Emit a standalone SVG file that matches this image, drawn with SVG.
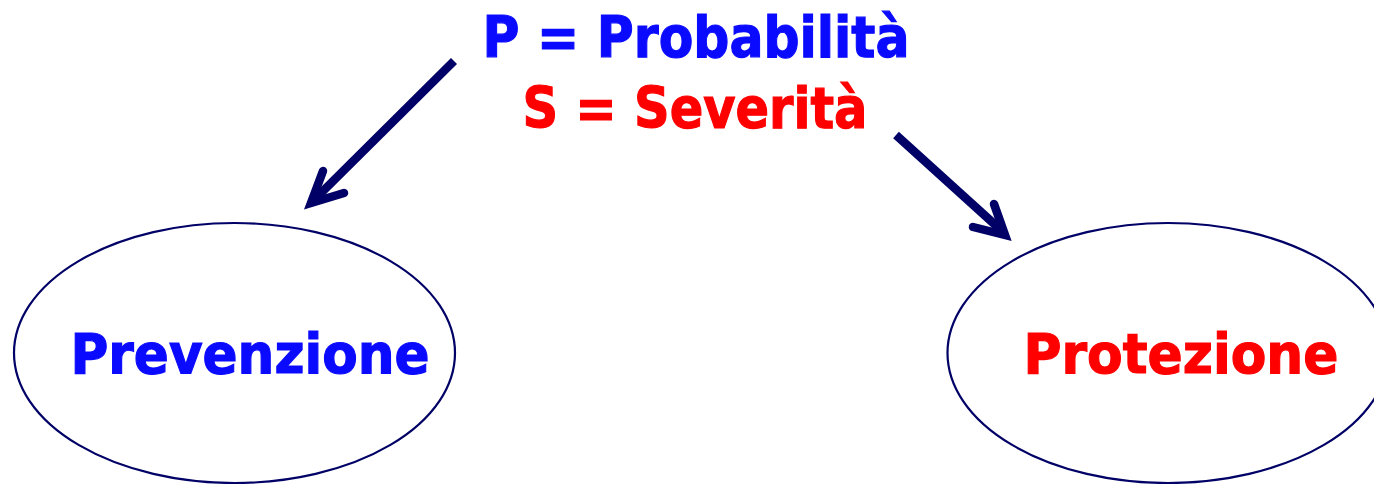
<svg xmlns="http://www.w3.org/2000/svg" width="1374" height="484" viewBox="0 0 1374 484">
<style>
.node{fill:#fff;stroke:#000066;stroke-width:2.2}
.t{font-family:"DejaVu Sans","Verdana",sans-serif;font-weight:bold;stroke-width:1.2}
.blue{fill:#0a0aff;stroke:#0a0aff}
.red{fill:#ff0000;stroke:#ff0000}
.shaft{fill:none;stroke:#000066;stroke-width:8.5}
.head{fill:none;stroke:#000066;stroke-width:8.5;stroke-linecap:round;stroke-linejoin:miter;stroke-miterlimit:10}
</style>
<rect width="1374" height="484" fill="#fff"/>
<g id="title">
<text class="t blue" x="482.5" y="57" font-size="57" textLength="427" lengthAdjust="spacingAndGlyphs">P = Probabilità</text>
<text class="t red" x="522.5" y="128" font-size="57" textLength="345" lengthAdjust="spacingAndGlyphs">S = Severità</text>
</g>
<g id="prevenzione">
<ellipse class="node" cx="234.5" cy="353" rx="220.5" ry="130"/>
<text class="t blue" x="70.5" y="373" font-size="55" textLength="359" lengthAdjust="spacingAndGlyphs">Prevenzione</text>
</g>
<g id="protezione">
<ellipse class="node" cx="1168" cy="353" rx="220.5" ry="130"/>
<text class="t red" x="1023.5" y="373" font-size="55" textLength="315" lengthAdjust="spacingAndGlyphs">Protezione</text>
</g>
<g id="connectors">
<path class="shaft" d="M454,61 L315,199"/>
<path class="head" d="M323,171 L311,203 L344,193"/>
<path class="shaft" d="M896,135 L1002,231"/>
<path class="head" d="M994,204 L1005,235 L973,227"/>
</g>
</svg>
